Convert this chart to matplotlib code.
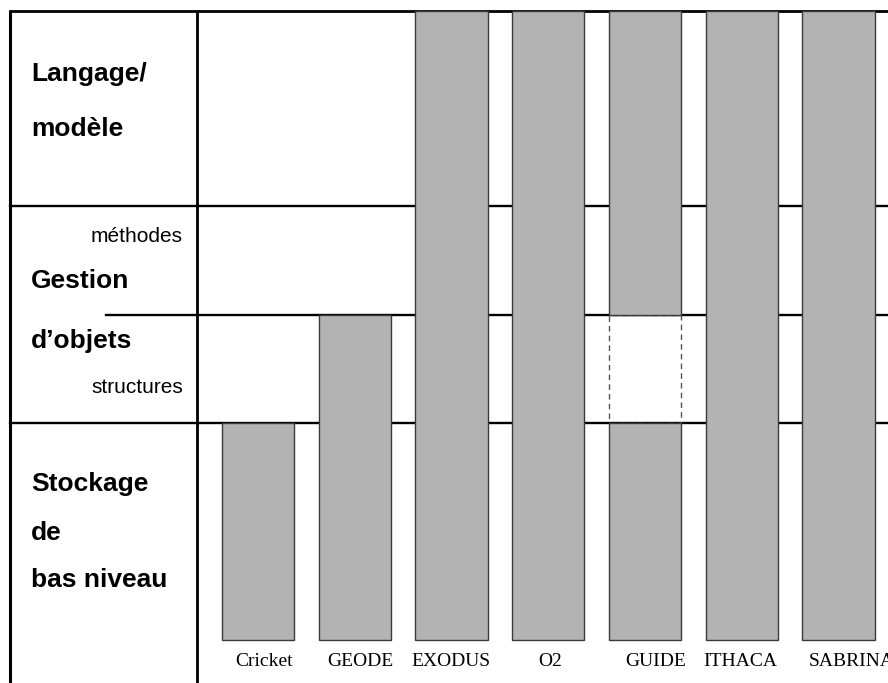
# architecture_layers.py
# Usage: python architecture_layers.py

import numpy as np
import matplotlib
matplotlib.use("Agg")
import matplotlib.pyplot as plt

# =========================================================
# DATA
# =========================================================
SYSTEMS = ["Cricket", "GEODE", "EXODUS", "O2", "GUIDE", "ITHACA", "SABRINA"]

# levels: 0-2 stockage, 2-3 structures, 3-4 methodes, 4-TOP langage
TOP = 5.8
LOW_TOP = [2, 3, TOP, TOP, 2, TOP, TOP]          # first solid block (from 0)
UPPER_FROM = [np.nan, np.nan, np.nan, np.nan, 3, np.nan, np.nan]  # 2nd block -> TOP
GAP_FROM = [np.nan, np.nan, np.nan, np.nan, 2, np.nan, np.nan]    # dashed block
GAP_TO = [np.nan, np.nan, np.nan, np.nan, 3, np.nan, np.nan]

BOUNDS = [2, 3, 4]

ROW_LABELS = ["Langage/", "modèle", "Gestion", "d’objets", "Stockage", "de", "bas niveau"]
ROW_Y = [5.15, 4.65, 3.24, 2.69, 1.37, 0.92, 0.49]
SUB_LABELS = ["méthodes", "structures"]
SUB_Y = [3.67, 2.28]

# =========================================================
# STYLE
# =========================================================
BAR_FILL = "#b3b3b3"
BAR_EDGE = "#3a3a3a"
BAR_W = 0.745
SANS = "Liberation Sans"
SERIF = "Liberation Serif"
LABEL_DX = [0.06, 0.06, -0.01, 0.02, 0.11, -0.02, 0.14]   # name nudges (slot units)

FRAME_X = -2.563
DIV_X = -0.630
MID_LINE_X = -1.571
XLIM = (-2.667, 6.512)
YLIM = (-0.396, 5.899)

fig = plt.figure(figsize=(8.88, 6.83), dpi=100)
ax = fig.add_axes([0, 0, 1, 1])
ax.set_xlim(*XLIM)
ax.set_ylim(*YLIM)
ax.axis("off")

# frame + row separators
ax.plot([FRAME_X, FRAME_X], [YLIM[0], TOP], color="black", lw=2.2, zorder=1,
        solid_capstyle="butt")
ax.plot([DIV_X, DIV_X], [YLIM[0], TOP], color="black", lw=2.0, zorder=1,
        solid_capstyle="butt")
ax.plot([FRAME_X, XLIM[1]], [TOP, TOP], color="black", lw=2.0, zorder=1)
for b in BOUNDS:
    x0 = MID_LINE_X if b == 3 else FRAME_X
    ax.plot([x0, XLIM[1]], [b, b], color="black", lw=1.7, zorder=1)

# bars
x = np.arange(len(SYSTEMS))
ax.bar(x, LOW_TOP, width=BAR_W, bottom=0, color=BAR_FILL,
       edgecolor=BAR_EDGE, linewidth=1.0, zorder=3)
up_from = np.array(UPPER_FROM)
ax.bar(x, TOP - up_from, width=BAR_W, bottom=up_from, color=BAR_FILL,
       edgecolor=BAR_EDGE, linewidth=1.0, zorder=3)
g0, g1 = np.array(GAP_FROM), np.array(GAP_TO)
ax.bar(x, g1 - g0, width=BAR_W, bottom=g0, fill=False, edgecolor="#555555",
       linewidth=1.0, linestyle=(0, (4, 3)), zorder=2)

for xi, name, dx in zip(x, SYSTEMS, LABEL_DX):
    ax.text(xi + dx, -0.235, name, ha="center", va="baseline", fontsize=14,
            family=SERIF, color="black")

# row labels
for lab, y in zip(ROW_LABELS, ROW_Y):
    ax.text(-2.345, y, lab, ha="left", va="baseline", fontsize=19,
            fontweight="bold", family=SANS)
for lab, y in zip(SUB_LABELS, SUB_Y):
    ax.text(-0.775, y, lab, ha="right", va="baseline", fontsize=15,
            family=SANS)

fig.savefig("out.png", dpi=100)
